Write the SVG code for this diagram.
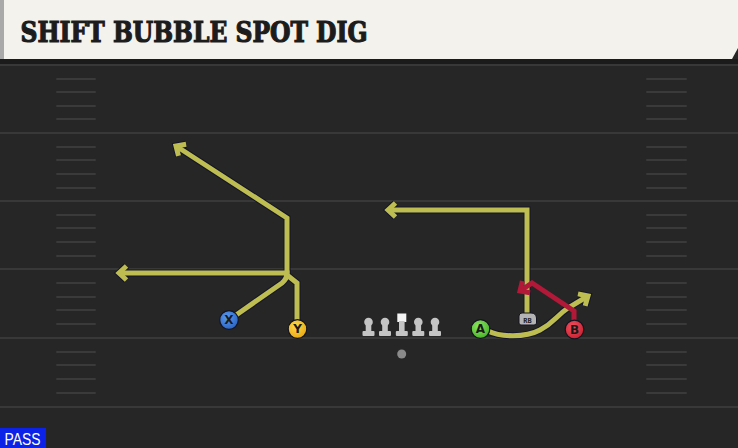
<svg xmlns="http://www.w3.org/2000/svg" width="738" height="448" viewBox="0 0 738 448">
<style>
.fl{stroke:#383838;stroke-width:2;fill:none}
.ro{fill:none;stroke:#15152a;stroke-width:7;stroke-linejoin:miter;stroke-linecap:butt}
.ry{fill:none;stroke:#bdbd52;stroke-width:5;stroke-linejoin:miter}
.rr{fill:none;stroke:#b21838;stroke-width:5;stroke-linejoin:miter}
.pl{fill:#1a1a1a;font-family:"DejaVu Sans","Liberation Sans",sans-serif;font-weight:bold;font-size:12px;text-anchor:middle}
.ol{fill:#c4c4c4}
</style>
<defs>
<marker id="aho" markerUnits="userSpaceOnUse" orient="auto" overflow="visible" markerWidth="20" markerHeight="20" refX="0" refY="0">
<path d="M -7.5 -7 L 0 0 L -7.5 7" fill="none" stroke="#15152a" stroke-width="7"/>
</marker>
<marker id="ahy" markerUnits="userSpaceOnUse" orient="auto" overflow="visible" markerWidth="20" markerHeight="20" refX="0" refY="0">
<path d="M -7.5 -7 L 0 0 L -7.5 7" fill="none" stroke="#bdbd52" stroke-width="5"/>
</marker>
<marker id="ahr" markerUnits="userSpaceOnUse" orient="auto" overflow="visible" markerWidth="20" markerHeight="20" refX="0" refY="0">
<path d="M -7.5 -7 L 0 0 L -7.5 7" fill="none" stroke="#b21838" stroke-width="5"/>
</marker>
<radialGradient id="gX" cx="0.4" cy="0.35" r="0.7"><stop offset="0" stop-color="#5a9af0"/><stop offset="1" stop-color="#2a62c0"/></radialGradient>
<radialGradient id="gY" cx="0.4" cy="0.35" r="0.7"><stop offset="0" stop-color="#ffd84a"/><stop offset="1" stop-color="#e8a810"/></radialGradient>
<radialGradient id="gA" cx="0.4" cy="0.35" r="0.7"><stop offset="0" stop-color="#8ae860"/><stop offset="1" stop-color="#48b028"/></radialGradient>
<radialGradient id="gB" cx="0.4" cy="0.35" r="0.7"><stop offset="0" stop-color="#f05060"/><stop offset="1" stop-color="#c82030"/></radialGradient>
<g id="lineman"><circle cx="0" cy="-14" r="4.3" class="ol"/><rect x="-2.8" y="-13" width="5.6" height="10" class="ol"/><rect x="-6" y="-5" width="12" height="5" rx="1" class="ol"/></g>
</defs>
<rect x="0" y="0" width="738" height="448" fill="#262626"/>
<rect x="0" y="59" width="738" height="5" fill="#1b1b1b"/>
<g id="field">
<line class="fl" x1="0" y1="65" x2="738" y2="65"/>
<line class="fl" x1="0" y1="133" x2="738" y2="133"/>
<line class="fl" x1="0" y1="201" x2="738" y2="201"/>
<line class="fl" x1="0" y1="269" x2="738" y2="269"/>
<line class="fl" x1="0" y1="338" x2="738" y2="338"/>
<line class="fl" x1="0" y1="407" x2="738" y2="407"/>
<path d="M57 79H95M57 92H95M57 106H95M57 119H95M57 147H95M57 160H95M57 174H95M57 188H95M57 215H95M57 228H95M57 242H95M57 256H95M57 283H95M57 297H95M57 310H95M57 324H95M57 352H95M57 365H95M57 379H95M57 393H95" stroke="#3a3a3a" stroke-width="2" stroke-linecap="round"/>
<path d="M647 79H686M647 92H686M647 106H686M647 119H686M647 147H686M647 160H686M647 174H686M647 188H686M647 215H686M647 228H686M647 242H686M647 256H686M647 283H686M647 297H686M647 310H686M647 324H686M647 352H686M647 365H686M647 379H686M647 393H686" stroke="#3a3a3a" stroke-width="2" stroke-linecap="round"/>
</g>
<g id="title">
<path d="M0 0H738V48L732 59H0Z" fill="#f4f2ec"/>
<rect x="0" y="0" width="4" height="59" fill="#a9a9a9"/>
<text x="20.5" y="42" font-family="'DejaVu Serif','Liberation Serif',serif" font-weight="bold" font-size="28" fill="#1c1c1c" stroke="#1c1c1c" stroke-width="1.2" textLength="347" lengthAdjust="spacingAndGlyphs">SHIFT BUBBLE SPOT DIG</text>
</g>
<g id="connectors">
<path class="ro" d="M229 320L282 283Q287 279 287 273L119 273" marker-end="url(#aho)"/>
<path class="ro" d="M297 320L297 283L287 275L287 218L176 146" marker-end="url(#aho)"/>
<path class="ro" d="M527 314L527 210L388 210" marker-end="url(#aho)"/>
<path class="ro" d="M488 331C500 337 525 338 540 330C555 322 556 316 568 308L588 296" marker-end="url(#aho)"/>
<path class="ry" d="M229 320L282 283Q287 279 287 273L119 273" marker-end="url(#ahy)"/>
<path class="ry" d="M297 320L297 283L287 275L287 218L176 146" marker-end="url(#ahy)"/>
<path class="ry" d="M527 314L527 210L388 210" marker-end="url(#ahy)"/>
<path class="ry" d="M488 331C500 337 525 338 540 330C555 322 556 316 568 308L588 296" marker-end="url(#ahy)"/>
<path class="rr" d="M574 320L574 311L532 283L520 291" marker-end="url(#ahr)"/>
</g>
<g id="line">
<use href="#lineman" x="368.5" y="336"/>
<use href="#lineman" x="385" y="336"/>
<g id="center"><rect x="397.3" y="313.5" width="9" height="8.5" fill="#f4f4f4"/><rect x="399" y="321" width="5.6" height="10" class="ol"/><rect x="395.8" y="331" width="12" height="5" rx="1" class="ol"/></g>
<use href="#lineman" x="418.3" y="336"/>
<use href="#lineman" x="435" y="336"/>
</g>
<g id="ball"><circle cx="401.7" cy="354" r="4.5" fill="#8a8a8a"/></g>
<g id="X"><circle cx="229" cy="320" r="9.3" fill="url(#gX)" stroke="#141420" stroke-width="1.2"/><text class="pl" x="229" y="324.3">X</text></g>
<g id="Y"><circle cx="297.5" cy="329" r="9.3" fill="url(#gY)" stroke="#141420" stroke-width="1.2"/><text class="pl" x="297.5" y="333.3">Y</text></g>
<g id="A"><circle cx="480.5" cy="329" r="9.3" fill="url(#gA)" stroke="#141420" stroke-width="1.2"/><text class="pl" x="480.5" y="333.3">A</text></g>
<g id="B"><circle cx="574.5" cy="329.5" r="9.3" fill="url(#gB)" stroke="#141420" stroke-width="1.2"/><text class="pl" x="574.5" y="333.8">B</text></g>
<g id="RB"><path d="M519 316Q519 313 522 313H531Q536 313 536.5 318V323Q536.5 325 534 325H521Q519 325 519 323Z" fill="#b4b4b4" stroke="#141420" stroke-width="1"/><text x="527.5" y="322.5" font-family="'DejaVu Sans Mono','Liberation Mono',monospace" font-weight="bold" font-size="7" fill="#222" text-anchor="middle">RB</text></g>
<g id="pass"><rect x="0" y="428" width="46" height="20" fill="#0c22e6"/><text x="4.5" y="445" font-family="'Liberation Sans',Arial,sans-serif" font-size="16" fill="#ffffff" textLength="36" lengthAdjust="spacingAndGlyphs">PASS</text></g>
</svg>
